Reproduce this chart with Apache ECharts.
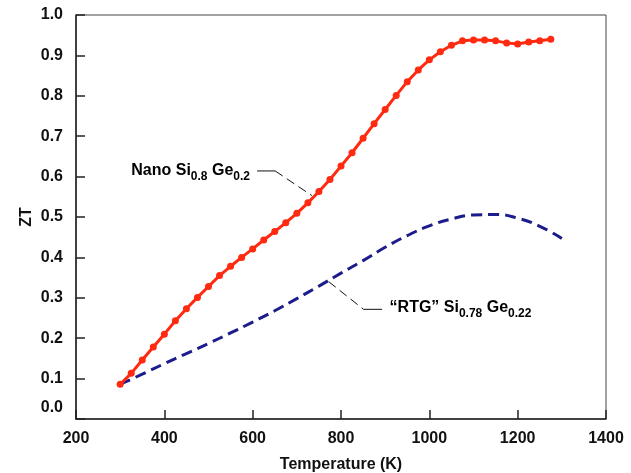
<!DOCTYPE html>
<html><head><meta charset="utf-8">
<script src="https://cdn.jsdelivr.net/npm/echarts@6/dist/echarts.min.js"></script>
<style>html,body{margin:0;padding:0;background:#fff}#c{width:631px;height:473px}</style>
</head><body><div id="c"></div>
<script>
// ---- data ----
const nanoT = [300,325,350,375,400,425,450,475,500,525,550,575,600,625,650,675,700,725,750,775,800,825,850,875,900,925,950,975,1000,1025,1050,1075,1100,1125,1150,1175,1200,1225,1250,1275];
const nanoZT = [0.086,0.113,0.146,0.178,0.210,0.243,0.273,0.301,0.328,0.355,0.378,0.400,0.421,0.443,0.464,0.486,0.509,0.535,0.563,0.593,0.626,0.659,0.695,0.731,0.766,0.801,0.835,0.864,0.889,0.909,0.925,0.936,0.938,0.938,0.936,0.931,0.928,0.933,0.936,0.940];
const rtgT = [300,350,400,450,500,550,600,650,700,750,800,850,900,950,1000,1050,1100,1150,1200,1250,1300];
const rtgZT = [0.086,0.111,0.137,0.162,0.187,0.213,0.240,0.268,0.298,0.329,0.361,0.392,0.425,0.454,0.478,0.495,0.505,0.506,0.497,0.477,0.447];
const xTickValues = [200,400,600,800,1000,1200,1400];
const yTickValues = [0.0,0.1,0.2,0.3,0.4,0.5,0.6,0.7,0.8,0.9,1.0];
const xTitle = 'Temperature (K)';
const yTitle = 'ZT';
// annotation leader lines (data coordinates)
const nanoLeaderSolid = [[610,0.614],[651,0.614]];
const nanoLeaderDash = [[651,0.614],[734,0.553]];
const rtgLeaderDash = [[772,0.340],[851,0.2715]];
const rtgLeaderSolid = [[851,0.2715],[893,0.2715]];
const nanoLabelAnchor = [594,0.614];
const rtgLabelAnchor = [910,0.275];

const FONT = "'Liberation Sans',Arial,sans-serif";
const chart = echarts.init(document.getElementById('c'), null, {renderer:'canvas'});
const pair = (xs, ys) => xs.map((x,i)=>[x, ys[i]]);
const leader = (data, dashed) => ({
  type:'line', data, silent:true, symbol:'none', z:1,
  lineStyle:{color:'#111', width:1, type: dashed ? [9,5] : 'solid'}
});
const labelStyle = {fontFamily:FONT, fontWeight:'bold', fontSize:16, color:'#111'};
chart.setOption({
  animation:false,
  backgroundColor:'#fff',
  grid:{left:76, right:25, top:15, bottom:54, outerBoundsMode:'none', containLabel:false,
        show:true, borderColor:'#444', borderWidth:1},
  xAxis:{
    type:'value', min:xTickValues[0], max:xTickValues[xTickValues.length-1], interval:200,
    axisLine:{lineStyle:{color:'#222', width:1.5}},
    axisTick:{inside:true, length:9, lineStyle:{color:'#222', width:1.5}},
    splitLine:{show:false},
    axisLabel:Object.assign({margin:12, formatter:v=>String(v)}, labelStyle),
    name:xTitle, nameLocation:'middle', nameGap:38, nameMoveOverlap:false,
    nameTextStyle:labelStyle
  },
  yAxis:{
    type:'value', min:yTickValues[0], max:yTickValues[yTickValues.length-1], interval:0.1,
    axisLine:{show:true, lineStyle:{color:'#222', width:1.5}},
    axisTick:{show:true, inside:true, length:9, lineStyle:{color:'#222', width:1.5}},
    splitLine:{show:false},
    axisLabel:Object.assign({margin:13,
      formatter:v=> v===0 ? '{z|0.0}' : v.toFixed(1),
      rich:{z:Object.assign({padding:[0,0,22,0]}, labelStyle)}}, labelStyle),
    name:yTitle, nameLocation:'middle', nameGap:41, nameRotate:90, nameMoveOverlap:false,
    nameTextStyle:labelStyle
  },
  series:[
    leader(nanoLeaderSolid,false), leader(nanoLeaderDash,true),
    leader(rtgLeaderDash,true), leader(rtgLeaderSolid,false),
    {type:'line', name:'RTG', data:pair(rtgT, rtgZT), smooth:0.5, symbol:'none', z:3,
     lineStyle:{color:'#1c1c8c', width:3, type:[11,6]}},
    {type:'line', name:'Nano', data:pair(nanoT, nanoZT), symbol:'circle', symbolSize:7, z:4,
     lineStyle:{color:'#ff2a10', width:3}, itemStyle:{color:'#ff2a10', borderWidth:0}}
  ]
});
const rich = {
  m:{fontFamily:FONT, fontWeight:'bold', fontSize:16, lineHeight:16, color:'#111', verticalAlign:'top'},
  s:{fontFamily:FONT, fontWeight:'bold', fontSize:12, lineHeight:12, color:'#111', verticalAlign:'top', padding:[8,0,0,0]}
};
const p1 = chart.convertToPixel({gridIndex:0}, nanoLabelAnchor);
const p2 = chart.convertToPixel({gridIndex:0}, rtgLabelAnchor);
chart.setOption({graphic:[
  {type:'text', x:p1[0], y:p1[1], style:{text:'{m|Nano Si}{s|0.8}{m| Ge}{s|0.2}', rich, align:'right', verticalAlign:'middle'}},
  {type:'text', x:p2[0], y:p2[1], style:{text:'{m|\u201cRTG\u201d Si}{s|0.78}{m| Ge}{s|0.22}', rich, align:'left', verticalAlign:'middle'}}
]});
</script></body></html>
